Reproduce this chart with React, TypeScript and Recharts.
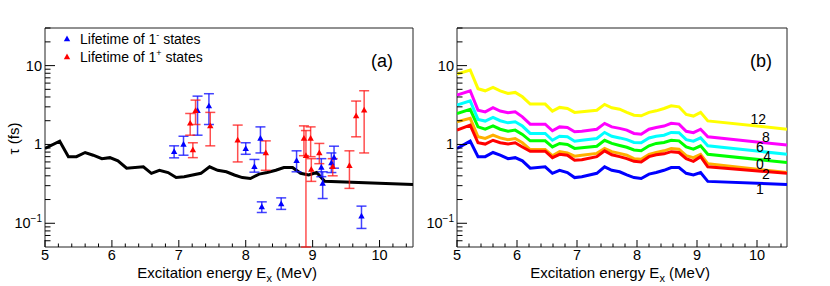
import {
  ComposedChart,
  ErrorBar,
  Label,
  Legend,
  Line,
  ReferenceArea,
  ReferenceDot,
  Scatter,
  XAxis,
  YAxis,
} from "recharts";

// excitation energy grid of the calculated curves (MeV)
const ex = [
  5.0, 5.22, 5.35, 5.47, 5.6, 5.72, 5.85, 5.97, 6.09, 6.22, 6.47, 6.59, 6.71, 6.84, 6.96, 7.08, 7.33,
  7.46, 7.58, 7.71, 7.83, 7.95, 8.07, 8.2, 8.32, 8.45, 8.57, 8.7, 8.82, 8.94, 9.06, 9.18, 10.5,
];
// lifetimes (fs) for the different curves of panel (b); tau1 is also the black curve of (a)
const tau1 = [
  0.89, 1.1, 0.7, 0.7, 0.79, 0.73, 0.66, 0.68, 0.62, 0.5, 0.52, 0.43, 0.47, 0.44, 0.38, 0.39, 0.43,
  0.52, 0.47, 0.45, 0.41, 0.38, 0.37, 0.42, 0.44, 0.47, 0.51, 0.51, 0.43, 0.41, 0.44, 0.34, 0.31,
];
const tau2 = [
  1.52, 1.76, 1.05, 1.01, 1.13, 1.05, 1.01, 1.05, 0.93, 0.82, 0.82, 0.68, 0.75, 0.73, 0.63, 0.64, 0.7,
  0.83, 0.74, 0.7, 0.66, 0.61, 0.6, 0.7, 0.74, 0.76, 0.81, 0.79, 0.66, 0.61, 0.7, 0.52, 0.43,
];
const tau0 = [
  1.94, 2.14, 1.25, 1.19, 1.31, 1.21, 1.15, 1.19, 1.05, 0.86, 0.86, 0.72, 0.81, 0.78, 0.71, 0.73, 0.77,
  0.89, 0.81, 0.77, 0.73, 0.66, 0.65, 0.75, 0.79, 0.83, 0.89, 0.87, 0.72, 0.68, 0.75, 0.57, 0.44,
];
const tau4 = [
  2.47, 2.78, 1.67, 1.56, 1.72, 1.56, 1.47, 1.52, 1.34, 1.11, 1.11, 0.93, 1.03, 1.0, 0.89, 0.91, 0.95,
  1.13, 1.03, 0.97, 0.92, 0.85, 0.83, 0.96, 1.03, 1.06, 1.13, 1.11, 0.93, 0.87, 0.96, 0.75, 0.59,
];
const tau6 = [
  3.15, 3.57, 2.08, 1.98, 2.2, 2.0, 1.88, 1.94, 1.71, 1.38, 1.38, 1.13, 1.27, 1.25, 1.1, 1.13, 1.19,
  1.42, 1.27, 1.21, 1.15, 1.06, 1.05, 1.21, 1.27, 1.31, 1.42, 1.41, 1.15, 1.1, 1.21, 0.96, 0.75,
];
const tau8 = [
  4.22, 4.79, 2.72, 2.59, 2.92, 2.65, 2.52, 2.59, 2.24, 1.81, 1.81, 1.49, 1.67, 1.64, 1.45, 1.47, 1.56,
  1.85, 1.67, 1.6, 1.52, 1.38, 1.35, 1.56, 1.64, 1.71, 1.85, 1.81, 1.47, 1.41, 1.56, 1.25, 0.98,
];
const tau12 = [
  7.8, 8.8, 5.1, 4.79, 5.28, 4.79, 4.44, 4.57, 4.02, 3.25, 3.25, 2.65, 2.95, 2.86, 2.55, 2.6, 2.72,
  3.22, 2.92, 2.8, 2.55, 2.35, 2.31, 2.55, 2.67, 2.86, 3.09, 3.0, 2.4, 2.29, 2.55, 1.99, 1.56,
];

// measured lifetimes of 1- states
const minusE = [6.93, 7.07, 7.28, 7.45, 8.0, 8.13, 8.22, 8.24, 8.53, 8.76, 9.13, 9.15, 9.28, 9.32, 9.73];
const minusTau = [0.805, 1.0, 2.67, 3.06, 0.88, 0.52, 1.19, 0.161, 0.175, 0.62, 0.51, 0.32, 0.58, 0.68, 0.123];
const minusLo = [0.676, 0.73, 1.31, 1.79, 0.75, 0.445, 0.78, 0.137, 0.15, 0.45, 0.39, 0.206, 0.44, 0.5, 0.086];
const minusHi = [0.96, 1.27, 4.1, 4.4, 1.05, 0.645, 1.67, 0.187, 0.21, 0.83, 0.66, 0.45, 0.78, 0.95, 0.165];

// measured lifetimes of 1+ states (one lower error runs down to the frame)
const plusE = [7.17, 7.21, 7.25, 7.47, 7.88, 8.3, 8.87, 8.9, 8.97, 8.98, 9.1, 9.3, 9.55, 9.65, 9.77];
const plusTau = [1.85, 0.85, 2.67, 1.71, 1.13, 0.78, 1.19, 0.72, 1.19, 0.48, 0.78, 0.52, 0.535, 2.29, 2.72];
const plusLo = [1.31, 0.68, 1.79, 0.96, 0.6, 0.47, 0.72, 0.05, 0.7, 0.34, 0.57, 0.4, 0.277, 1.25, 0.78];
const plusHi = [2.47, 1.05, 3.65, 2.55, 1.76, 1.11, 1.72, 1.5, 1.67, 0.66, 1.03, 0.66, 0.83, 3.55, 4.8];

const xMajor = [5, 6, 7, 8, 9, 10];
const yMajor = [0.1, 1, 10];
const yTicks = [
  0.06, 0.07, 0.08, 0.09, 0.1, 0.2, 0.3, 0.4, 0.5, 0.6, 0.7, 0.8, 0.9, 1, 2, 3, 4, 5, 6, 7, 8, 9, 10, 20, 30,
];
const xTicks: number[] = [];
for (let i = 0; i <= 27; i++) xTicks.push(Math.round((5 + i * 0.2) * 10) / 10);

// curve labels of panel (b), anchored in data coordinates
const curveLabels = ["12", "8", "6", "4", "0", "2", "1"];
const curveLabelE = [10.02, 10.15, 10.05, 10.17, 10.05, 10.15, 10.05];
const curveLabelTau = [2.1, 1.24, 0.92, 0.71, 0.56, 0.42, 0.27];

const FONT = "'Liberation Sans', Arial, Helvetica, sans-serif";

const curveRows = ex.map((x, i) => ({
  x,
  y: tau1[i],
  t0: tau0[i],
  t1: tau1[i],
  t2: tau2[i],
  t4: tau4[i],
  t6: tau6[i],
  t8: tau8[i],
  t12: tau12[i],
}));
const minusRows = minusE.map((x, i) => ({ x, y: minusTau[i], err: [minusTau[i] - minusLo[i], minusHi[i] - minusTau[i]] }));
const plusRows = plusE.map((x, i) => ({ x, y: plusTau[i], err: [plusTau[i] - plusLo[i], plusHi[i] - plusTau[i]] }));

function XTick({ x, y, payload }: any) {
  const v = payload.value;
  const major = xMajor.includes(v);
  return (
    <g>
      <line x1={x} x2={x} y1={y} y2={y - (major ? 7 : 3.5)} stroke="#000" strokeWidth={1} />
      {major && (
        <text x={x} y={y + 13} textAnchor="middle" fontSize={14.5} fill="#000" fontFamily={FONT}>
          {v}
        </text>
      )}
    </g>
  );
}

function YTick({ x, y, payload }: any) {
  const v = payload.value;
  const major = yMajor.includes(v);
  return (
    <g>
      <line x1={x} x2={x + (major ? 10 : 5.5)} y1={y} y2={y} stroke="#000" strokeWidth={1} />
      {major && (
        <text x={x - 3} y={y + 5} textAnchor="end" fontSize={14.5} fill="#000" fontFamily={FONT}>
          {v < 1 ? (
            <>
              <tspan>10</tspan>
              <tspan dy={-6} fontSize={10}>
                −1
              </tspan>
            </>
          ) : (
            v
          )}
        </text>
      )}
    </g>
  );
}

function Triangle({ cx, cy, fill }: any) {
  return <polygon points={`${cx},${cy - 3.5} ${cx - 3.2},${cy + 2.2} ${cx + 3.2},${cy + 2.2}`} fill={fill} />;
}

function XTitle({ viewBox }: any) {
  const cx = viewBox.x + viewBox.width / 2 - 2;
  return (
    <text x={cx} y={viewBox.y + 31} textAnchor="middle" fontSize={15} fill="#000" fontFamily={FONT}>
      Excitation energy E
      <tspan dy={4} fontSize={11}>
        x
      </tspan>
      <tspan dy={-4}> (MeV)</tspan>
    </text>
  );
}

function YTitle({ viewBox }: any) {
  const cy = viewBox.y + viewBox.height / 2 + 1;
  return (
    <text
      x={13}
      y={cy}
      transform={`rotate(-90 13 ${cy})`}
      textAnchor="middle"
      dominantBaseline="central"
      fontSize={15}
      fill="#000"
      fontFamily={FONT}
    >
      τ (fs)
    </text>
  );
}

function PanelTag({ viewBox, text, right }: any) {
  return (
    <text x={viewBox.x + viewBox.width - right} y={viewBox.y + 39} textAnchor="end" fontSize={18} fill="#000" fontFamily={FONT}>
      {text}
    </text>
  );
}

function LegendBox() {
  const items = [
    { sup: "-", color: "#0000ff" },
    { sup: "+", color: "#ff0000" },
  ];
  return (
    <div style={{ fontFamily: FONT, fontSize: 14, color: "#000" }}>
      {items.map((it) => (
        <div key={it.sup} style={{ position: "relative", height: 18, lineHeight: "18px", whiteSpace: "nowrap" }}>
          <svg width={10} height={18} style={{ position: "absolute", left: 2, top: 0 }}>
            <polygon points="5,5.5 1.8,11.2 8.2,11.2" fill={it.color} />
          </svg>
          <span style={{ position: "absolute", left: 20, top: 0 }}>
            Lifetime of 1<sup style={{ fontSize: 9, verticalAlign: "6px", lineHeight: 0 }}>{it.sup}</sup> states
          </span>
        </div>
      ))}
    </div>
  );
}

const yAxisProps = {
  type: "number" as const,
  scale: "log" as const,
  domain: [0.05, 30],
  ticks: yTicks,
  interval: 0,
  allowDataOverflow: true,
  tickSize: 0,
  tickMargin: 0,
  axisLine: false,
  tickLine: false,
  tick: (p: any) => <YTick {...p} />,
};

const xAxisProps = {
  type: "number" as const,
  dataKey: "x",
  domain: [5, 10.5],
  ticks: xTicks,
  interval: 0,
  allowDataOverflow: true,
  tickSize: 0,
  tickMargin: 0,
  axisLine: false,
  tickLine: false,
  height: 39,
  tick: (p: any) => <XTick {...p} />,
};

export default function App() {
  return (
    <div style={{ position: "absolute", left: 0, top: 0, width: 830, height: 286, background: "#fff", fontFamily: FONT }}>
      <div style={{ position: "absolute", left: 0, top: 0 }}>
        <ComposedChart width={415} height={286} margin={{ top: 28, right: 2, bottom: 0, left: 0 }}>
          <XAxis {...xAxisProps}>
            <Label content={(p: any) => <XTitle {...p} />} />
          </XAxis>
          <YAxis {...yAxisProps} dataKey="y" width={45}>
            <Label content={(p: any) => <YTitle {...p} />} />
          </YAxis>
          <Legend
            layout="vertical"
            align="center"
            verticalAlign="middle"
            content={() => <LegendBox />}
            wrapperStyle={{ left: 60, top: 30, width: 200 }}
          />
          <Line
            data={curveRows}
            dataKey="y"
            type="linear"
            stroke="#000"
            strokeWidth={3}
            dot={false}
            isAnimationActive={false}
            legendType="none"
          />
          <Scatter data={minusRows} dataKey="y" fill="#0000ff" shape={(p: any) => <Triangle {...p} />} isAnimationActive={false}>
            <ErrorBar dataKey="err" direction="y" width={5} stroke="rgba(20,20,255,0.8)" strokeWidth={1.5} isAnimationActive={false} />
          </Scatter>
          <Scatter data={plusRows} dataKey="y" fill="#ff0000" shape={(p: any) => <Triangle {...p} />} isAnimationActive={false}>
            <ErrorBar dataKey="err" direction="y" width={5} stroke="rgba(255,20,20,0.75)" strokeWidth={1.5} isAnimationActive={false} />
          </Scatter>
          <ReferenceArea x1={5} x2={10.5} y1={0.05} y2={30} fill="none" stroke="#222" strokeWidth={1} ifOverflow="visible">
            <Label content={(p: any) => <PanelTag {...p} text="(a)" right={20} />} />
          </ReferenceArea>
        </ComposedChart>
      </div>
      <div style={{ position: "absolute", left: 415, top: 0 }}>
        <ComposedChart width={415} height={286} data={curveRows} margin={{ top: 28, right: 43, bottom: 0, left: 0 }}>
          <XAxis {...xAxisProps}>
            <Label content={(p: any) => <XTitle {...p} />} />
          </XAxis>
          <YAxis {...yAxisProps} width={42} />
          <Line dataKey="t12" type="linear" stroke="#ffff00" strokeWidth={3} dot={false} isAnimationActive={false} />
          <Line dataKey="t8" type="linear" stroke="#ff00ff" strokeWidth={3} dot={false} isAnimationActive={false} />
          <Line dataKey="t6" type="linear" stroke="#00ffff" strokeWidth={3} dot={false} isAnimationActive={false} />
          <Line dataKey="t4" type="linear" stroke="#00ff00" strokeWidth={3} dot={false} isAnimationActive={false} />
          <Line dataKey="t0" type="linear" stroke="#ffb000" strokeWidth={3} dot={false} isAnimationActive={false} />
          <Line dataKey="t2" type="linear" stroke="#ff0000" strokeWidth={3} dot={false} isAnimationActive={false} />
          <Line dataKey="t1" type="linear" stroke="#0000ff" strokeWidth={3} dot={false} isAnimationActive={false} />
          {curveLabels.map((name, i) => (
            <ReferenceDot
              key={name}
              x={curveLabelE[i]}
              y={curveLabelTau[i]}
              r={0}
              stroke="none"
              fill="none"
              label={{ value: name, position: "center", fontSize: 14, fill: "#000", fontFamily: FONT }}
            />
          ))}
          <ReferenceArea x1={5} x2={10.5} y1={0.05} y2={30} fill="none" stroke="#222" strokeWidth={1} ifOverflow="visible">
            <Label content={(p: any) => <PanelTag {...p} text="(b)" right={15} />} />
          </ReferenceArea>
        </ComposedChart>
      </div>
    </div>
  );
}
